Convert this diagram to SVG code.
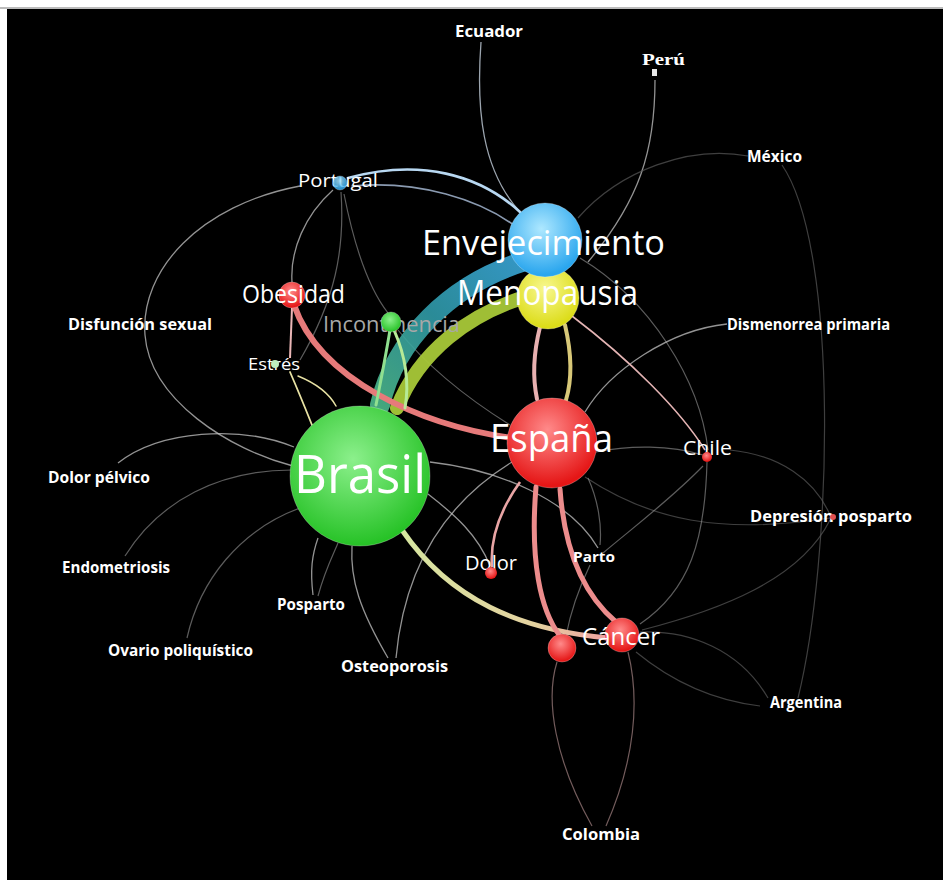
<svg xmlns="http://www.w3.org/2000/svg" width="943" height="880" viewBox="0 0 943 880">
<defs>
<radialGradient id="gG" cx="0.45" cy="0.38" r="0.62"><stop offset="0" stop-color="#8cf08c"/><stop offset="1" stop-color="#26c226"/></radialGradient>
<radialGradient id="gR" cx="0.45" cy="0.35" r="0.62"><stop offset="0" stop-color="#ff8a8a"/><stop offset="1" stop-color="#e51616"/></radialGradient>
<radialGradient id="gB" cx="0.45" cy="0.35" r="0.62"><stop offset="0" stop-color="#aee8ff"/><stop offset="1" stop-color="#2aa6ee"/></radialGradient>
<radialGradient id="gY" cx="0.45" cy="0.35" r="0.62"><stop offset="0" stop-color="#f8f890"/><stop offset="1" stop-color="#dcdc18"/></radialGradient>
<linearGradient id="gTeal" x1="380" y1="405" x2="522" y2="262" gradientUnits="userSpaceOnUse"><stop offset="0" stop-color="#4cb88a"/><stop offset="0.5" stop-color="#2f9aa8"/><stop offset="1" stop-color="#3aa6d8"/></linearGradient>
<linearGradient id="gBC" x1="402" y1="530" x2="608" y2="638" gradientUnits="userSpaceOnUse"><stop offset="0" stop-color="#d6e6a0"/><stop offset="0.7" stop-color="#e4d2a0"/><stop offset="1" stop-color="#eea0a0"/></linearGradient>
<style>
.bg{fill:#000}
.t1{fill:none;stroke:#c4c4c4;stroke-opacity:.75;stroke-width:1.3}
.t2{fill:none;stroke:#9a9a9a;stroke-opacity:.6;stroke-width:1.2}
.t3{fill:none;stroke:#5a5a5a;stroke-opacity:.7;stroke-width:1.2}
.pk{fill:none;stroke:#e8a4a4;stroke-width:2}
.th{fill:none;stroke-linecap:round}
.nd{stroke:#ffffff;stroke-opacity:.25;stroke-width:1}
.lb{fill:#fff;font-family:"Open Sans","Noto Sans","DejaVu Sans",sans-serif}
.sm{fill:#fff;font-family:"Open Sans","Noto Sans","DejaVu Sans",sans-serif;font-weight:bold;font-size:16px}
</style>
</defs>
<rect x="0" y="0" width="943" height="880" fill="#fff"/>
<rect x="0" y="7" width="943" height="2" fill="#bbb"/>
<rect class="bg" x="7" y="9" width="936" height="871"/>

<g id="connectors">
<!-- faint / thin -->
<path class="t1" d="M481,42 C476,110 482,170 520,212" style="stroke:#d0dcea"/>
<path class="t1" d="M655,80 C655,150 640,200 588,262"/>
<path class="t3" d="M748,156 C690,145 620,170 578,218"/>
<path class="t3" d="M782,165 C840,250 832,560 798,698"/>
<path class="t1" d="M333,190 C305,215 290,250 292,282"/>
<path class="t2" d="M341,192 C345,250 335,300 300,360"/>
<path class="t2" d="M344,194 C355,250 370,290 388,313"/>
<path class="t1" d="M300,186 C200,205 140,270 145,335 C150,400 230,450 293,466"/>
<path class="t1" d="M118,463 C160,430 240,425 294,447"/>
<path class="t2" d="M125,556 C160,500 220,470 292,470"/>
<path class="t2" d="M187,638 C200,580 240,530 300,508"/>
<path class="t1" d="M313,595 C310,570 312,555 318,538"/>
<path class="t2" d="M318,596 C325,570 333,555 338,543"/>
<path class="t1" d="M388,658 C360,610 350,580 352,546"/>
<path class="t1" d="M396,658 C405,560 450,500 512,462"/>
<path class="t1" d="M428,494 C455,515 478,535 490,566"/>
<path class="t1" d="M430,462 C500,470 570,500 598,548"/>
<path class="t3" d="M585,477 C650,520 720,535 830,518"/>
<path class="t2" d="M398,330 C430,370 470,400 510,425"/>
<path class="t2" d="M596,452 C630,445 670,445 703,455"/>
<path class="t2" d="M580,258 C650,300 700,380 708,450"/>
<path class="t1" d="M727,324 C670,330 610,370 585,412"/>
<path class="t3" d="M730,450 C780,455 815,480 830,515"/>
<path class="t3" d="M830,520 C800,580 720,610 642,630"/>
<path class="t2" d="M703,466 C670,500 630,530 603,553"/>
<path class="t2" d="M707,462 C705,540 690,590 640,624"/>
<path class="t2" d="M588,478 C598,500 602,525 600,545"/>
<path class="t2" d="M590,565 C578,590 570,615 566,636"/>
<path class="t3" d="M768,698 C740,650 690,630 640,632"/>
<path class="t3" d="M760,706 C710,700 670,680 636,652"/>
<path class="t2" d="M592,826 C555,760 545,700 557,662" style="stroke:#c09a9a"/>
<path class="t2" d="M606,826 C635,760 640,700 628,652" style="stroke:#c09a9a"/>
<path class="pk" d="M572,316 C630,360 680,410 705,450" style="stroke-width:1.6;stroke:#e4b4b4"/>
<path class="pk" d="M292,308 L290,358" style="stroke:#eab6b6"/>
<path class="th" d="M290,372 C300,395 306,410 312,425" stroke="#e8e2a4" stroke-width="1.8"/>
<path class="th" d="M298,376 C320,385 330,395 336,406" stroke="#e8e2a4" stroke-width="1.5"/>
<path class="th" d="M348,178 C420,158 480,175 520,212" stroke="#b8d8f2" stroke-width="2.6"/>
<path class="th" d="M352,186 C420,180 480,200 515,226" stroke="#8a9ab0" stroke-width="1.6"/>
<path class="pk" d="M520,482 C500,510 490,540 492,567" style="stroke-width:2.6"/>
<!-- thick -->
<path class="th" d="M380,405 C395,340 450,285 522,262" stroke="url(#gTeal)" stroke-width="20" stroke-opacity=".9"/>
<path class="th" d="M397,408 C420,350 470,315 522,298" stroke="#a8c838" stroke-width="14" stroke-opacity=".95"/>
<path class="th" d="M294,305 C320,380 420,425 512,438" stroke="#e67a7a" stroke-width="6"/>
<path class="th" d="M402,530 C450,600 520,630 608,638" stroke="url(#gBC)" stroke-width="5"/>
<path class="th" d="M536,487 C530,560 540,610 560,636" stroke="#ec8c8c" stroke-width="5"/>
<path class="th" d="M560,489 C565,560 590,600 616,622" stroke="#ec8c8c" stroke-width="5"/>
<path class="th" d="M540,327 C533,355 533,380 537,399" stroke="#e8b0b0" stroke-width="4"/>
<path class="th" d="M565,325 C572,355 572,380 566,400" stroke="#d8c878" stroke-width="4"/>
<path class="th" d="M390,330 C385,360 380,385 376,405" stroke="#90e090" stroke-width="3"/>
<path class="th" d="M394,330 C405,355 410,380 405,408" stroke="#b6ea96" stroke-width="3"/>
</g>

<g id="n-brasil"><circle class="nd" cx="360" cy="476" r="70" fill="url(#gG)"/><text class="lb" x="360" y="493" font-size="53" text-anchor="middle" textLength="132" lengthAdjust="spacingAndGlyphs">Brasil</text></g>
<g id="n-espana"><circle class="nd" cx="552" cy="443" r="45" fill="url(#gR)"/><text class="lb" x="490" y="452" font-size="38" textLength="123" lengthAdjust="spacingAndGlyphs">España</text></g>
<g id="n-menopausia"><circle class="nd" cx="548" cy="298" r="31" fill="url(#gY)"/></g>
<g id="n-envejecimiento"><circle class="nd" cx="545" cy="240" r="37" fill="url(#gB)"/><text class="lb" x="422" y="255" font-size="35" textLength="243" lengthAdjust="spacingAndGlyphs">Envejecimiento</text></g>
<g id="n-menopausia-label"><text class="lb" x="457" y="305" font-size="34" textLength="181" lengthAdjust="spacingAndGlyphs">Menopausia</text></g>
<g id="n-obesidad"><circle class="nd" cx="292" cy="295" r="13" fill="url(#gR)"/><text class="lb" x="242" y="303" font-size="25" textLength="103" lengthAdjust="spacingAndGlyphs">Obesidad</text></g>
<g id="n-incontinencia"><text class="lb" x="323" y="332" font-size="22" fill-opacity="1" style="fill:#a8a8a8" textLength="137" lengthAdjust="spacingAndGlyphs">Incontinencia</text><circle class="nd" cx="391" cy="322" r="10" fill="url(#gG)"/></g>
<g id="n-portugal"><text class="lb" x="298" y="187" font-size="18" textLength="80" lengthAdjust="spacingAndGlyphs">Portugal</text><circle class="nd" cx="340" cy="183" r="7" fill="url(#gB)" fill-opacity=".85"/></g>
<g id="n-estres"><text class="lb" x="248" y="370" font-size="16" textLength="52" lengthAdjust="spacingAndGlyphs">Estrés</text><circle cx="275" cy="364" r="4" fill="#bfeebf"/></g>
<g id="n-dolor"><text class="lb" x="465" y="570" font-size="20" textLength="52" lengthAdjust="spacingAndGlyphs">Dolor</text><circle cx="491" cy="573" r="6" fill="url(#gR)"/></g>
<g id="n-cancer2"><circle class="nd" cx="562" cy="648" r="14" fill="url(#gR)"/></g>
<g id="n-cancer"><circle class="nd" cx="622" cy="635" r="17" fill="url(#gR)"/><text class="lb" x="582" y="645" font-size="24" textLength="78" lengthAdjust="spacingAndGlyphs">Cáncer</text></g>
<g id="n-chile"><text class="lb" x="683" y="455" font-size="20" textLength="49" lengthAdjust="spacingAndGlyphs">Chile</text><circle cx="707" cy="457" r="5" fill="url(#gR)"/></g>
<g id="n-parto"><text class="sm" x="573" y="562" font-size="15" style="font-size:15px" textLength="42" lengthAdjust="spacingAndGlyphs">Parto</text></g>
<g id="n-depresion"><text class="sm" x="750" y="522" textLength="162" lengthAdjust="spacingAndGlyphs">Depresión posparto</text><circle cx="833" cy="517" r="3" fill="#e05050"/></g>
<g id="n-dismenorrea"><text class="sm" x="727" y="330" textLength="163" lengthAdjust="spacingAndGlyphs">Dismenorrea primaria</text></g>
<g id="n-mexico"><text class="sm" x="747" y="162" textLength="55" lengthAdjust="spacingAndGlyphs">México</text></g>
<g id="n-ecuador"><text class="sm" x="455" y="37" textLength="68" lengthAdjust="spacingAndGlyphs">Ecuador</text></g>
<g id="n-peru"><text x="642" y="65" fill="#fff" font-family="'Liberation Serif',serif" font-weight="bold" font-size="17" textLength="43" lengthAdjust="spacingAndGlyphs">Perú</text><rect x="652" y="69" width="5" height="7" fill="#e8e8e8"/></g>
<g id="n-disfuncion"><text class="sm" x="68" y="330" textLength="144" lengthAdjust="spacingAndGlyphs">Disfunción sexual</text></g>
<g id="n-dolorpelvico"><text class="sm" x="48" y="483" textLength="102" lengthAdjust="spacingAndGlyphs">Dolor pélvico</text></g>
<g id="n-endometriosis"><text class="sm" x="62" y="573" textLength="108" lengthAdjust="spacingAndGlyphs">Endometriosis</text></g>
<g id="n-ovario"><text class="sm" x="108" y="656" textLength="145" lengthAdjust="spacingAndGlyphs">Ovario poliquístico</text></g>
<g id="n-posparto"><text class="sm" x="277" y="610" textLength="68" lengthAdjust="spacingAndGlyphs">Posparto</text></g>
<g id="n-osteoporosis"><text class="sm" x="341" y="672" textLength="107" lengthAdjust="spacingAndGlyphs">Osteoporosis</text></g>
<g id="n-argentina"><text class="sm" x="770" y="708" textLength="72" lengthAdjust="spacingAndGlyphs">Argentina</text></g>
<g id="n-colombia"><text class="sm" x="562" y="840" textLength="78" lengthAdjust="spacingAndGlyphs">Colombia</text></g>
</svg>
